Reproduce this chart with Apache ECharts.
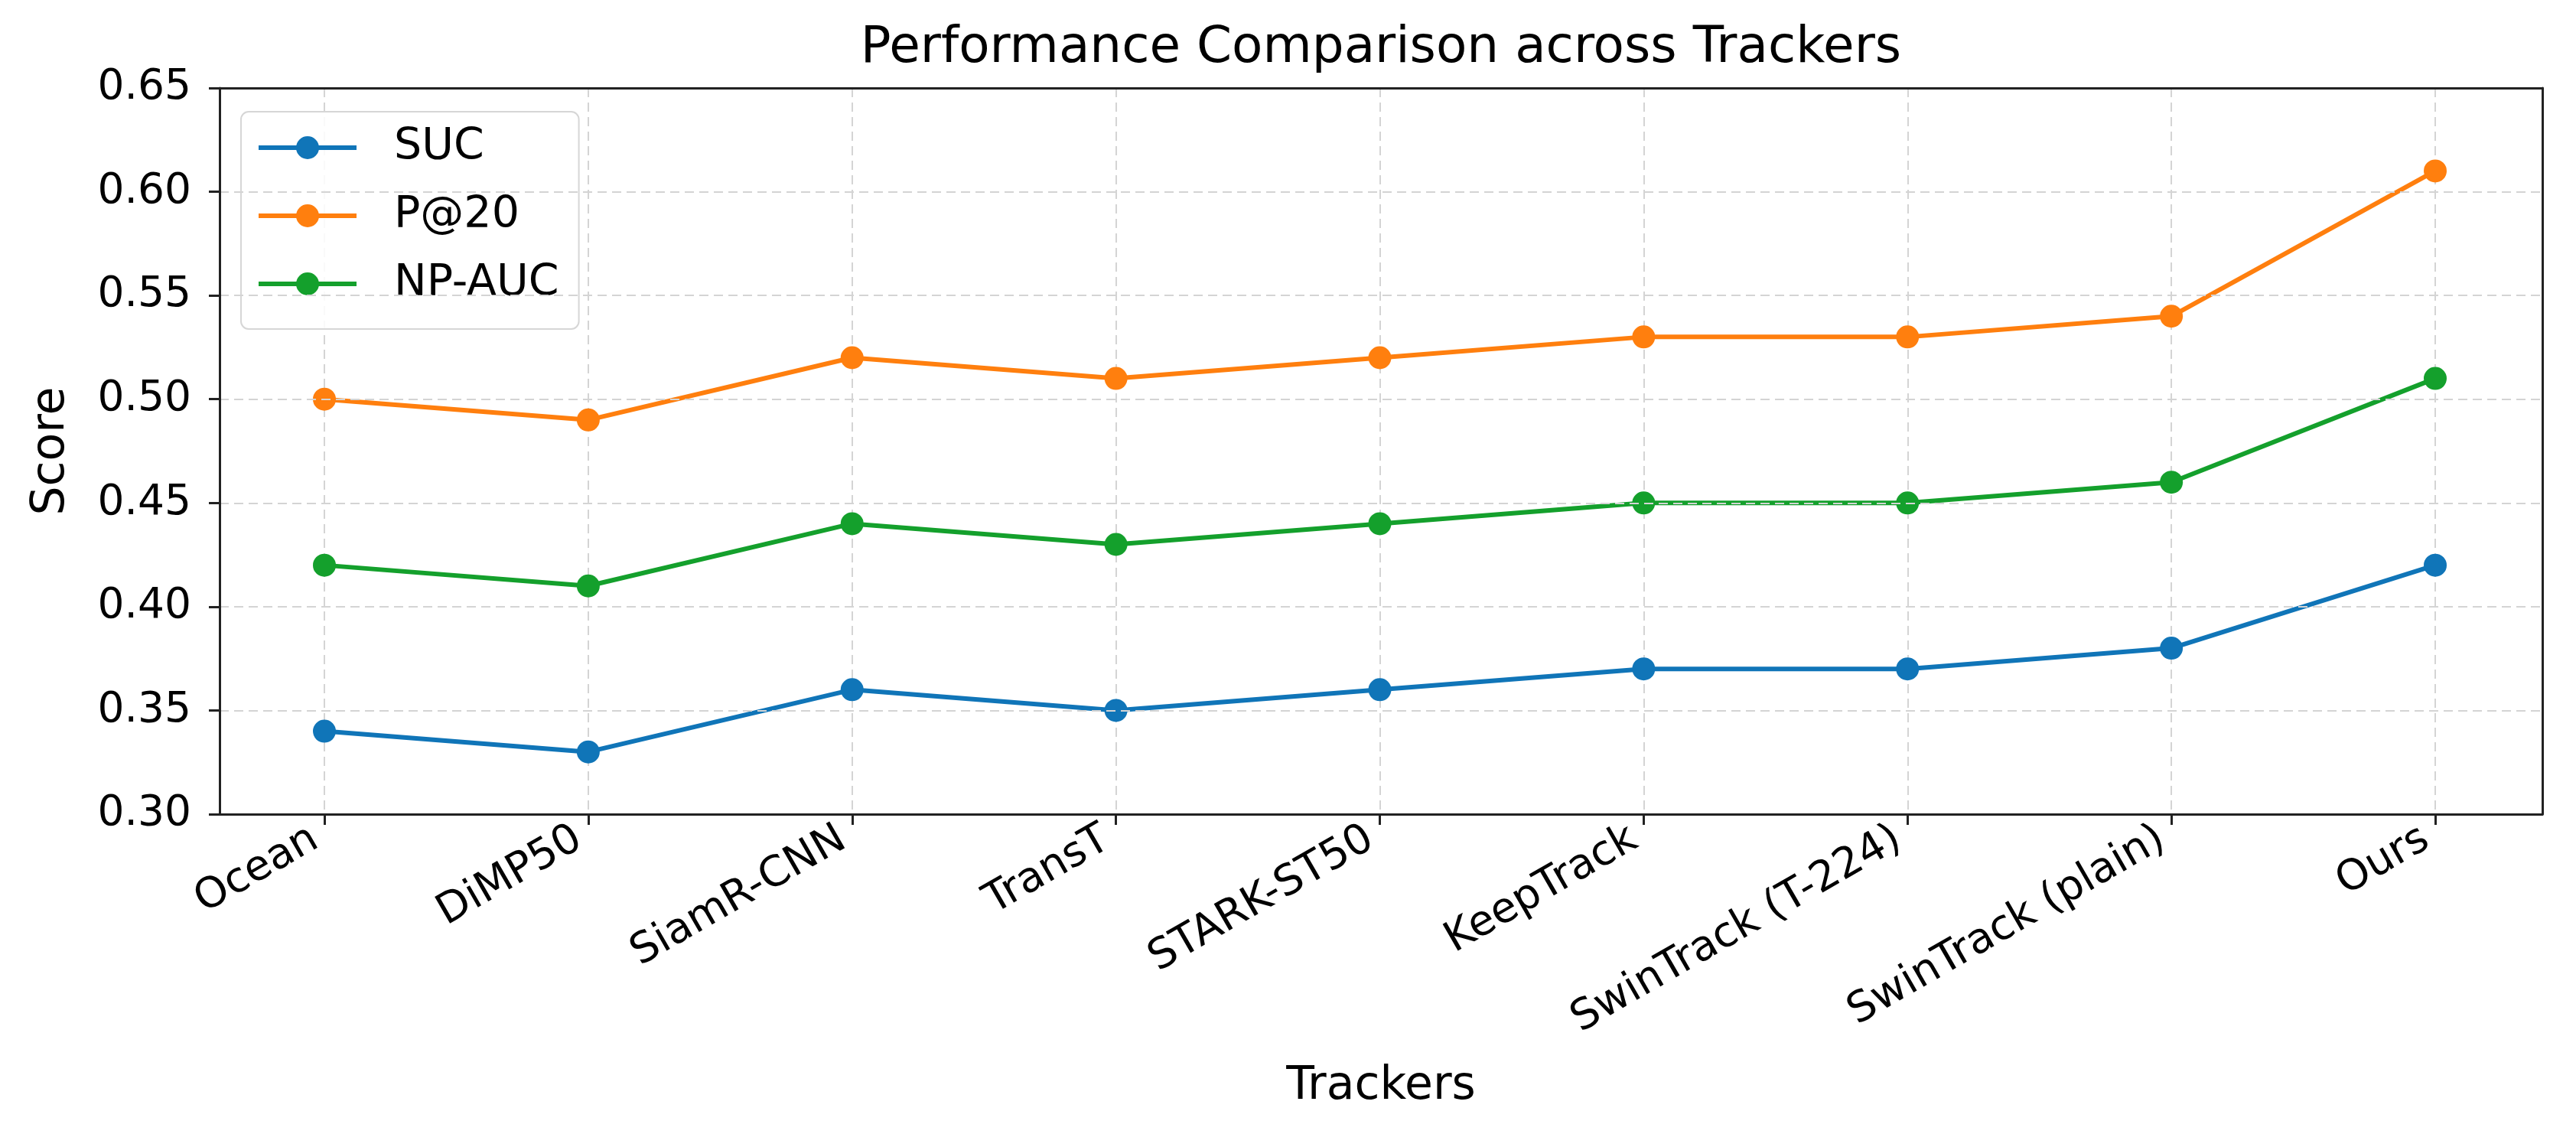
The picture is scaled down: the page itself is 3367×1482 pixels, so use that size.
<!DOCTYPE html>
<html>
<head>
<meta charset="utf-8">
<script src="https://cdn.jsdelivr.net/npm/echarts@6/dist/echarts.min.js"></script>
<style>
  html, body { margin: 0; padding: 0; background: #fff; }
  #chart { width: 3367px; height: 1482px; }
</style>
</head>
<body>
<div id="chart"></div>
<script>
const categories = ['Ocean', 'DiMP50', 'SiamR-CNN', 'TransT', 'STARK-ST50', 'KeepTrack', 'SwinTrack (T-224)', 'SwinTrack (plain)', 'Ours'];
const sucValues = [0.34, 0.33, 0.36, 0.35, 0.36, 0.37, 0.37, 0.38, 0.42];
const p20Values = [0.50, 0.49, 0.52, 0.51, 0.52, 0.53, 0.53, 0.54, 0.61];
const npaucValues = [0.42, 0.41, 0.44, 0.43, 0.44, 0.45, 0.45, 0.46, 0.51];
const seriesNames = ['SUC', 'P@20', 'NP-AUC'];
const yMin = 0.30, yMax = 0.65, yStep = 0.05;

const FONT = 'DejaVu Sans';
const colors = ['#1075b8', '#ff7f0e', '#14a02c'];
const gridLine = { show: true, showMinLine: false, showMaxLine: false, lineStyle: { color: '#d4d4d4', width: 2, type: [12, 7] } };
const frameLine = { show: true, onZero: false, lineStyle: { color: '#222', width: 3 } };

const chart = echarts.init(document.getElementById('chart'), null, { renderer: 'canvas' });

function mkSeries(name, data, i) {
  return {
    name: name, type: 'line', data: data,
    xAxisIndex: 1, yAxisIndex: 1,
    symbol: 'circle', symbolSize: 30,
    lineStyle: { width: 6, color: colors[i] },
    itemStyle: { color: colors[i] },
    emphasis: { disabled: true },
    animation: false, z: 3
  };
}

chart.setOption({
  animation: false,
  textStyle: { fontFamily: FONT },
  title: {
    text: 'Performance Comparison across Trackers',
    left: 1805, top: 31, textAlign: 'center', padding: 0,
    textStyle: { fontFamily: FONT, fontSize: 66, fontWeight: 'normal', color: '#000' }
  },
  legend: {
    data: seriesNames,
    orient: 'vertical',
    left: 315, top: 146,
    padding: [17, 26, 29, 20],
    itemWidth: 128, itemHeight: 37.5, itemGap: 29,
    lineStyle: { width: 6 },
    backgroundColor: 'rgba(255,255,255,0.85)',
    borderColor: '#d6d6d6', borderWidth: 2, borderRadius: 10,
    textStyle: { fontFamily: FONT, fontSize: 57, color: '#000', lineHeight: 60, padding: [0, 0, 0, 44] },
    selectedMode: false
  },
  grid: [
    { left: 287, right: 44, top: 115, bottom: 418 },
    { left: 424, right: 184, top: 115, bottom: 418 }
  ],
  xAxis: [
    { gridIndex: 0, type: 'value', min: 0, max: 1, position: 'bottom',
      axisLine: frameLine, axisTick: { show: false }, axisLabel: { show: false }, splitLine: { show: false },
      name: 'Trackers', nameLocation: 'middle', nameGap: 326,
      nameTextStyle: { fontFamily: FONT, fontSize: 60, color: '#000' }, z: 5 },
    { gridIndex: 1, type: 'category', data: categories, boundaryGap: false,
      axisLine: { show: false },
      axisTick: { show: true, inside: false, length: 14, alignWithLabel: true, lineStyle: { color: '#222', width: 3 } },
      axisLabel: { rotate: 30, margin: 22, padding: [0, 14, 0, 0], fontFamily: FONT, fontSize: 55, color: '#000', interval: 0 },
      splitLine: { show: true, lineStyle: { color: '#d4d4d4', width: 2, type: [12, 7] } } },
    { gridIndex: 0, type: 'value', min: 0, max: 1, position: 'top',
      axisLine: frameLine, axisTick: { show: false }, axisLabel: { show: false }, splitLine: { show: false }, z: 5 }
  ],
  yAxis: [
    { gridIndex: 0, type: 'value', min: yMin, max: yMax, interval: yStep, position: 'left',
      axisLine: frameLine,
      axisTick: { show: true, length: 14, lineStyle: { color: '#222', width: 3 } },
      axisLabel: { margin: 37, fontFamily: FONT, fontSize: 55, color: '#000', formatter: v => v.toFixed(2) },
      splitLine: gridLine,
      name: 'Score', nameLocation: 'middle', nameGap: 190, nameRotate: 90,
      nameTextStyle: { fontFamily: FONT, fontSize: 60, color: '#000' }, z: 5 },
    { gridIndex: 1, type: 'value', min: yMin, max: yMax, interval: yStep, show: false, splitLine: { show: false } },
    { gridIndex: 0, type: 'value', min: yMin, max: yMax, interval: yStep, position: 'right',
      axisLine: frameLine, axisTick: { show: false }, axisLabel: { show: false }, splitLine: { show: false }, z: 5 }
  ],
  series: [
    mkSeries(seriesNames[0], sucValues, 0),
    mkSeries(seriesNames[1], p20Values, 1),
    mkSeries(seriesNames[2], npaucValues, 2)
  ]
});
</script>
</body>
</html>
